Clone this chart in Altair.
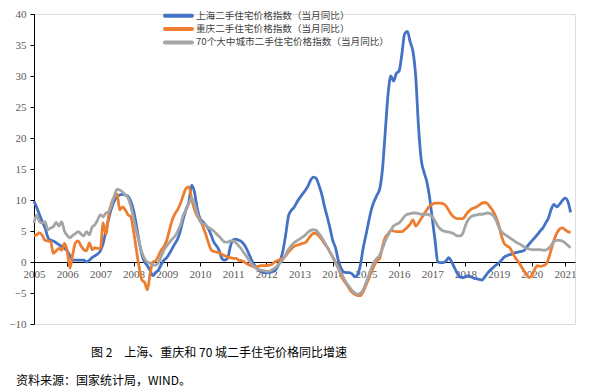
import altair as alt
import pandas as pd

# Monthly, Jan 2005 .. Mar 2021
start_year = 2005
series_names = ["上海二手住宅价格指数（当月同比）",
                "重庆二手住宅价格指数（当月同比）",
                "70个大中城市二手住宅价格指数（当月同比）"]
series_colors = ["#4472C4", "#ED7D31", "#A5A5A5"]

shanghai = [
    9.8, 8.8, 7.6, 6.5, 5.5, 4.0, 3.5, 3.4, 3.1, 2.8, 2.5, 2.2,      # 2005
    1.8, 1.0, 0.3, 0.3, 0.3, 0.3, 0.3, 0.0, 0.3, 0.7, 1.0, 1.3,      # 2006
    1.8, 3.0, 5.0, 7.0, 8.6, 9.8, 10.5, 10.8, 10.9, 10.8, 10.6, 9.8,  # 2007
    8.3, 6.0, 3.3, 1.2, 0.0, -0.6, -1.4, -2.2, -1.7, -1.3, -0.4, 0.3,  # 2008
    0.7, 1.4, 2.2, 3.0, 3.8, 5.2, 7.0, 8.5, 9.7, 12.4, 11.3, 8.7,    # 2009
    7.0, 6.5, 6.0, 5.4, 4.4, 3.2, 2.6, 1.8, 0.5, 0.3, 0.6, 2.5,      # 2010
    3.6, 3.7, 3.5, 3.3, 2.8, 2.0, 1.0, 0.0, -0.7, -1.2, -1.5, -1.7,  # 2011
    -1.7, -1.7, -1.6, -1.4, -0.8, 0.2, 1.8, 4.4, 7.4, 8.3, 8.8, 9.6,  # 2012
    10.3, 10.9, 11.5, 12.2, 13.2, 13.7, 13.5, 12.4, 11.0, 9.0, 7.3, 5.5,  # 2013
    3.5, 2.3, 0.3, -1.0, -1.6, -1.7, -1.7, -1.9, -2.4, -2.0, -0.5, 2.2,  # 2014
    4.3, 6.5, 8.5, 9.8, 10.8, 11.8, 15.0, 21.0, 27.0, 30.0, 29.2, 30.4,  # 2015
    30.8, 33.5, 36.8, 37.2, 35.5, 34.0, 30.0, 22.0, 16.5, 14.5, 13.0, 10.5,  # 2016
    7.0, 3.5, 0.0, -0.1, -0.1, 0.2, 0.7, 0.0, -0.9, -1.8, -2.4, -2.5,  # 2017
    -2.4, -2.2, -2.4, -2.6, -2.7, -2.8, -2.9, -2.4, -1.8, -1.3, -0.9, -0.5,  # 2018
    -0.2, 0.3, 0.8, 1.0, 1.2, 1.3, 1.5, 1.6, 1.7, 1.8, 2.3, 2.9,     # 2019
    3.4, 3.9, 4.4, 5.0, 5.5, 6.3, 7.1, 8.5, 9.3, 8.9, 9.3, 9.9,      # 2020
    10.3, 9.8, 8.0,                                                 # 2021
]

chongqing = [
    4.2, 4.4, 4.7, 4.3, 3.5, 3.4, 3.3, 1.4, 1.8, 2.2, 1.9, 3.0,      # 2005
    1.8, -1.0, 1.2, 3.1, 3.4, 2.6, 2.0, 1.8, 3.1, 2.0, 2.3, 2.2,     # 2006
    2.2, 6.3, 4.5, 7.6, 9.5, 10.5, 11.0, 8.4, 8.9, 8.4, 7.6, 7.3,    # 2007
    5.0, 2.0, -0.8, -2.9, -3.3, -4.5, -1.8, 0.0, 0.2, 1.0, 1.9, 2.5,  # 2008
    3.5, 5.2, 6.8, 7.8, 8.5, 9.5, 10.8, 11.9, 12.1, 10.2, 8.5, 7.4,  # 2009
    6.8, 5.8, 4.6, 3.2, 2.0, 1.7, 1.6, 1.5, 1.2, 1.0, 0.8, 0.7,      # 2010
    0.6, 0.6, 0.3, 0.2, 0.0, -0.3, -0.5, -0.7, -0.8, -0.7, -0.6, -0.6,  # 2011
    -0.6, -0.5, -0.4, 0.0, 0.2, 0.4, 0.6, 1.0, 1.6, 2.1, 2.5, 2.7,   # 2012
    2.8, 3.0, 3.1, 3.6, 4.2, 4.6, 4.6, 4.2, 3.7, 3.0, 2.4, 1.6,      # 2013
    0.8, 0.0, -0.9, -2.2, -3.0, -3.6, -4.3, -4.9, -5.2, -5.4, -5.4, -4.8,  # 2014
    -3.8, -2.7, -1.6, -0.6, 0.2, 0.6, 2.5, 4.0, 4.5, 5.1, 5.0, 4.9,  # 2015
    4.9, 4.9, 5.2, 5.6, 6.1, 6.8, 5.8, 6.3, 7.0, 7.7, 8.4, 9.0,      # 2016
    9.3, 9.5, 9.5, 9.5, 9.4, 9.0, 8.3, 7.6, 7.2, 7.0, 7.0, 7.0,      # 2017
    7.5, 8.1, 8.5, 8.7, 8.9, 9.2, 9.5, 9.6, 9.4, 8.8, 8.2, 7.3,      # 2018
    6.0, 4.2, 3.0, 2.6, 2.3, 1.5, 0.7, 0.1, -0.6, -1.3, -2.0, -2.5,  # 2019
    -2.2, -1.2, -0.6, -0.7, -0.6, -0.4, 0.5, 2.0, 3.5, 4.6, 5.3, 5.5,  # 2020
    5.2, 4.9, 4.8,                                                  # 2021
]

cities70 = [
    6.3, 7.6, 6.5, 6.3, 6.5, 5.2, 5.5, 5.7, 6.4, 5.8, 6.5, 5.0,      # 2005
    4.3, 3.9, 4.3, 4.6, 4.9, 4.5, 4.2, 4.9, 4.4, 5.6, 6.0, 6.8,      # 2006
    7.6, 7.3, 7.9, 8.1, 9.2, 10.6, 11.7, 11.6, 11.3, 10.8, 10.3, 9.0,  # 2007
    7.0, 5.0, 3.2, 1.6, 0.5, 0.0, -0.2, -0.5, -0.5, -0.1, 0.9, 1.9,  # 2008
    2.6, 3.2, 3.7, 4.2, 5.0, 6.0, 7.6, 8.4, 9.5, 10.3, 9.4, 7.8,     # 2009
    6.6, 6.2, 6.0, 5.6, 5.3, 5.0, 4.5, 4.1, 3.6, 3.2, 3.2, 3.4,      # 2010
    3.4, 3.1, 2.6, 2.1, 1.4, 0.8, 0.1, -0.5, -0.9, -1.2, -1.3, -1.4,  # 2011
    -1.5, -1.5, -1.3, -1.0, -0.6, -0.1, 0.4, 1.2, 2.0, 2.6, 3.1, 3.4,  # 2012
    3.7, 4.0, 4.3, 4.8, 5.1, 5.2, 5.1, 4.6, 4.0, 3.2, 2.4, 1.6,      # 2013
    0.8, -0.2, -1.0, -1.8, -2.6, -3.4, -4.0, -4.6, -5.0, -5.2, -5.0, -4.5,  # 2014
    -3.4, -2.2, -1.0, 0.0, 0.6, 1.1, 2.2, 3.4, 4.3, 5.1, 5.8, 6.1,   # 2015
    6.3, 6.8, 7.4, 7.7, 7.8, 7.9, 7.9, 7.8, 7.7, 7.7, 7.7, 7.6,      # 2016
    7.3, 6.6, 5.8, 5.3, 5.0, 4.9, 4.8, 4.7, 4.5, 4.2, 4.2, 4.6,      # 2017
    5.9, 6.8, 7.3, 7.5, 7.6, 7.7, 7.7, 7.8, 7.9, 7.8, 7.5, 6.8,      # 2018
    5.7, 4.9, 4.5, 4.2, 3.9, 3.6, 3.3, 3.0, 2.8, 2.5, 2.2, 2.1,      # 2019
    2.0, 2.0, 2.0, 2.0, 1.9, 1.9, 2.2, 2.7, 3.3, 3.5, 3.5, 3.4,      # 2020
    3.1, 2.7, 2.3,                                                  # 2021
]

year_ticks = list(range(2005, 2022))
y_ticks = list(range(-10, 45, 5))
caption = "图 2\u3000上海、重庆和 70 城二手住宅价格同比增速"
source = "资料来源：国家统计局，WIND。"

rows = []
for name, vals in zip(series_names, [shanghai, chongqing, cities70]):
    for i, v in enumerate(vals):
        rows.append({"t": start_year + i / 12.0, "value": v, "series": name})
df = pd.DataFrame(rows)
legend_df = pd.DataFrame({"series": series_names})

W, H = 541, 310
num_font = "Liberation Serif"
cjk_font = "Noto Sans CJK SC"
color_scale = alt.Scale(domain=series_names, range=series_colors)

lines = alt.Chart(df).mark_line(strokeWidth=2.8, interpolate="monotone").encode(
    x=alt.X("t:Q",
            scale=alt.Scale(domain=[2005, 2021.3], nice=False, zero=False),
            axis=alt.Axis(values=year_ticks, format="d", title=None, grid=False,
                          offset=-62, domainColor="black", tickColor="black",
                          tickSize=4, labelPadding=2, labelFont=num_font,
                          labelFontSize=11, labelColor="#595959",
                          labelOverlap=False, labelFlush=False)),
    y=alt.Y("value:Q",
            scale=alt.Scale(domain=[-10, 40], nice=False, zero=False),
            axis=alt.Axis(values=y_ticks, title=None, grid=False,
                          domainColor="black", tickColor="black", tickSize=4,
                          labelPadding=4, labelFont=num_font, labelFontSize=11,
                          labelColor="#595959")),
    color=alt.Color("series:N", scale=color_scale, legend=None),
    detail="series:N",
)

legend_y = alt.Y("series:N",
                 scale=alt.Scale(type="point", domain=series_names,
                                 range=[1.8, 28.4], padding=0),
                 axis=None)
leg_lines = alt.Chart(legend_df).mark_rule(strokeWidth=4, strokeCap="round").encode(
    x=alt.value(131), x2=alt.value(158), y=legend_y,
    color=alt.Color("series:N", scale=color_scale, legend=None),
)
leg_text = alt.Chart(legend_df).mark_text(
    font=cjk_font, fontSize=9.6, color="#404040", align="left", baseline="middle"
).encode(x=alt.value(162), y=legend_y, text="series:N")

cap = alt.Chart(pd.DataFrame({"label": [caption]})).mark_text(
    font=cjk_font, fontSize=12, color="black", align="center", baseline="middle"
).encode(text="label:N", x=alt.value(185), y=alt.value(339))

src = alt.Chart(pd.DataFrame({"label": [source]})).mark_text(
    font=cjk_font, fontSize=12, color="black", align="left", baseline="middle"
).encode(text="label:N", x=alt.value(-18), y=alt.value(367))

chart = alt.layer(lines, leg_lines, leg_text, cap, src).resolve_scale(
    y="independent"
).properties(
    width=W, height=H,
    autosize=alt.AutoSizeParams(type="none"),
    padding={"left": 26, "top": 6, "right": 14, "bottom": 72},
).configure_view(strokeWidth=0).configure(background="white")

chart.save("out.html", embed_options={"renderer": "svg", "actions": False})
